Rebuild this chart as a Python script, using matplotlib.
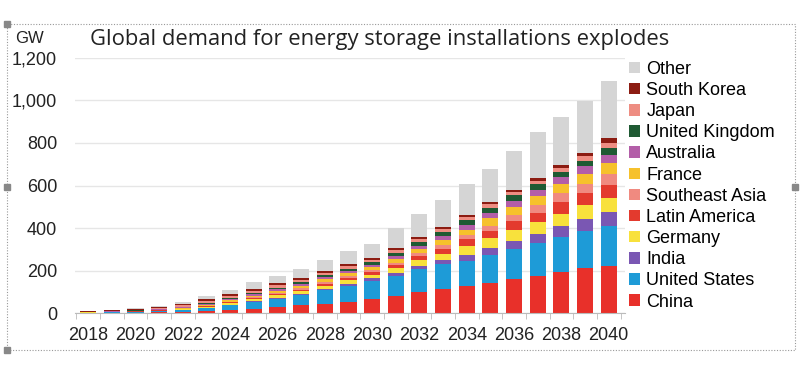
import matplotlib
matplotlib.use("Agg")
import matplotlib.pyplot as plt
from matplotlib.patches import Rectangle, Patch
import numpy as np

years = list(range(2018, 2041))
china =     [1, 1.5, 2, 3, 5, 8, 13, 20, 28, 36, 44, 54, 67, 82, 98, 114, 126, 142, 158, 176, 194, 210, 223]
us =        [1, 2, 3, 5, 8, 14, 23, 31, 39, 47, 63, 75, 86, 94, 110, 116, 118, 133, 144, 153, 162, 174, 186]
india =     [0.2, 0.3, 0.5, 1, 1.5, 2, 3, 4, 5, 6, 7, 8, 10, 12, 15, 20, 31, 32, 36, 44, 55, 58, 66]
germany =   [0.5, 1, 1.5, 2, 3, 5, 7, 9, 11, 13, 15, 17, 17, 22, 26, 30, 39, 47, 55, 55, 55, 66, 66]
latam =     [0.2, 0.3, 0.5, 1, 1.5, 2.5, 4, 5, 6, 7, 9, 10, 12, 15, 18, 22, 32, 31, 39, 44, 56, 57, 61]
sea =       [0.3, 0.5, 1, 1.5, 2, 3, 4, 5, 6, 7, 8, 9, 10, 12, 14, 17, 19, 23, 27, 35, 43, 42, 52]
france =    [0.5, 1, 1.5, 2, 3, 4, 6, 8, 9, 11, 13, 14, 14, 18, 21, 24, 28, 40, 41, 44, 42, 47, 52]
australia = [0.5, 1, 1.5, 2, 3, 4, 5, 6, 7, 8, 9, 10, 11, 13, 15, 18, 23, 23, 26, 30, 33, 38, 38]
uk =        [0.5, 1, 1.5, 2.5, 3.5, 5, 6, 7, 8, 9, 10, 11, 11, 15, 17, 19, 21, 24, 27, 26, 25, 23, 32]
japan =     [1, 1.5, 3, 4, 6, 8, 10, 10, 11, 12, 12, 12, 13, 14, 14, 15, 16, 16, 15, 16, 17, 24, 24]
s_korea =   [2, 2.5, 4, 6, 8, 9, 10, 10, 10, 10, 10, 9, 9, 9, 9, 10, 9, 10, 13, 14, 15, 14, 24]
other =     [1, 1, 2, 4, 8, 15, 19, 31, 32, 40, 48, 62, 66, 95, 107, 129, 143, 158, 180, 214, 224, 246, 269]

series = [
    ("China", china, "#e8302a"),
    ("United States", us, "#1e9bd7"),
    ("India", india, "#7a57b3"),
    ("Germany", germany, "#f8e13c"),
    ("Latin America", latam, "#e33a2e"),
    ("Southeast Asia", sea, "#f08a80"),
    ("France", france, "#f6c12c"),
    ("Australia", australia, "#b35ea8"),
    ("United Kingdom", uk, "#1f5a33"),
    ("Japan", japan, "#ee8d82"),
    ("South Korea", s_korea, "#8c1c12"),
    ("Other", other, "#d5d5d5"),
]

plt.rcParams['font.family'] = ['Liberation Sans', 'DejaVu Sans']

fig = plt.figure(figsize=(8, 3.74), dpi=100)
ax = fig.add_axes([0.094, 0.163, 0.687, 0.682])

x = np.arange(len(years))
bottom = np.zeros(len(years))
handles = []
for name, vals, col in series:
    v = np.array(vals, dtype=float)
    ax.bar(x, v, width=0.68, bottom=bottom, color=col, linewidth=0)
    bottom += v
    handles.append(Patch(facecolor=col, edgecolor='none', label=name))

ax.set_xlim(-0.55, 22.68)
ax.set_ylim(0, 1200)
ax.set_yticks(range(0, 1201, 200))
ax.set_yticklabels([f"{v:,}" for v in range(0, 1201, 200)], fontsize=13, color='#222222')
ax.set_xticks(x[::2])
ax.set_xticklabels([str(y) for y in years[::2]], fontsize=13, color='#222222')
ax.set_xticks(np.arange(-0.5, 23, 1), minor=True)
ax.tick_params(axis='x', which='major', length=0, pad=10)
ax.tick_params(axis='x', which='minor', length=4, color='#bbbbbb', direction='out')
ax.tick_params(axis='y', length=0, pad=13)
ax.grid(axis='y', color='#e6e6e6', linewidth=1)
ax.set_axisbelow(True)
for s in ['top', 'right', 'left']:
    ax.spines[s].set_visible(False)
ax.spines['bottom'].set_color('#bbbbbb')

leg = ax.legend(handles=handles[::-1], loc='upper left', bbox_to_anchor=(0.995, 1.017),
                frameon=False, fontsize=13, handlelength=0.6, handleheight=0.6,
                handletextpad=0.35, labelspacing=0.23, borderaxespad=0)

fig.text(0.019, 0.898, "GW", fontsize=12, color='#222222', ha='left', va='center')
fig.text(0.112, 0.895, "Global demand for energy storage installations explodes",
         fontsize=15.8, family='Open Sans', color='#222222', ha='left', va='center')

# dotted frame with handles
fr = Rectangle((0.009, 0.064), 0.985, 0.872, transform=fig.transFigure, fill=False,
               edgecolor='#999999', linestyle=(0, (1, 1.5)), linewidth=0.8)
fig.add_artist(fr)
for (hx, hy) in [(0.009, 0.936), (0.009, 0.5), (0.009, 0.064), (0.994, 0.5)]:
    fig.add_artist(Rectangle((hx - 0.004, hy - 0.008), 0.008, 0.016,
                             transform=fig.transFigure, color='#888888'))

fig.savefig("out.png", dpi=100)
